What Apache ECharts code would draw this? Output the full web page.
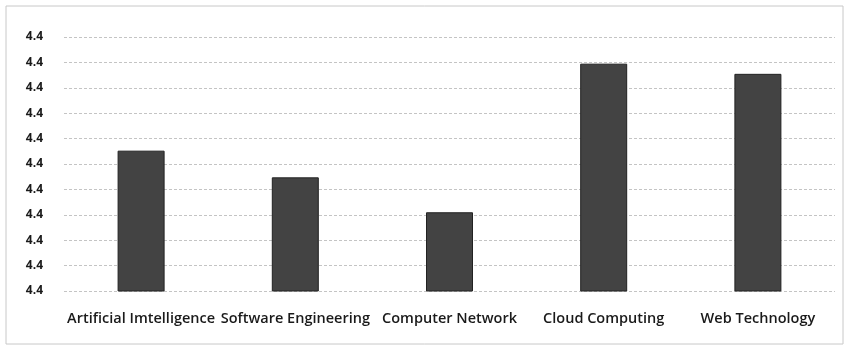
<!doctype html>
<html>
    <head>
        <meta charset="utf-8">
        <title>Courses</title>
        <style>
            html, body { margin: 0; padding: 0; background: #fff; }
            #main { width: 849px; height: 350px; }
        </style>
    </head>
    <body>
        <div id="main"></div>
        <script src="https://cdn.jsdelivr.net/npm/echarts@6/dist/echarts.min.js"></script>
        <script>
            var categories = ['Artificial Imtelligence', 'Software Engineering', 'Computer Network', 'Cloud Computing', 'Web Technology'];
            var values = [4.4221, 4.4179, 4.4124, 4.4358, 4.4342];
            var yMin = 4.4, yMax = 4.44, yStep = 0.004;

            var chart = echarts.init(document.getElementById('main'));

            chart.setOption({
                animation: false,
                graphic: [{
                    type: 'rect',
                    shape: { x: 6, y: 6, width: 837, height: 338 },
                    style: { fill: 'none', stroke: '#c8c8c8', lineWidth: 1 }
                }],
                grid: { left: 64, right: 14, top: 37, bottom: 59 },
                xAxis: {
                    type: 'category',
                    data: categories,
                    axisLine: { show: false },
                    axisTick: { show: false },
                    axisLabel: {
                        margin: 20,
                        color: '#1a1a1a',
                        fontFamily: 'Open Sans',
                        fontWeight: 600,
                        fontSize: 14.5,
                        interval: 0
                    }
                },
                yAxis: {
                    type: 'value',
                    min: yMin,
                    max: yMax,
                    interval: yStep,
                    axisLine: { show: false },
                    axisTick: { show: false },
                    axisLabel: {
                        margin: 21,
                        color: '#1a1a1a',
                        fontFamily: 'Open Sans',
                        fontWeight: 'bold',
                        fontSize: 12,
                        formatter: function (v) { return v.toFixed(1); }
                    },
                    splitLine: { lineStyle: { color: '#c4c4c4', type: [3, 2], width: 1 } }
                },
                series: [{
                    type: 'bar',
                    data: values,
                    barWidth: 47,
                    itemStyle: { color: '#434343', borderColor: '#222', borderWidth: 1 }
                }]
            });

            window.onresize = chart.resize;
        </script>
    </body>
</html>
